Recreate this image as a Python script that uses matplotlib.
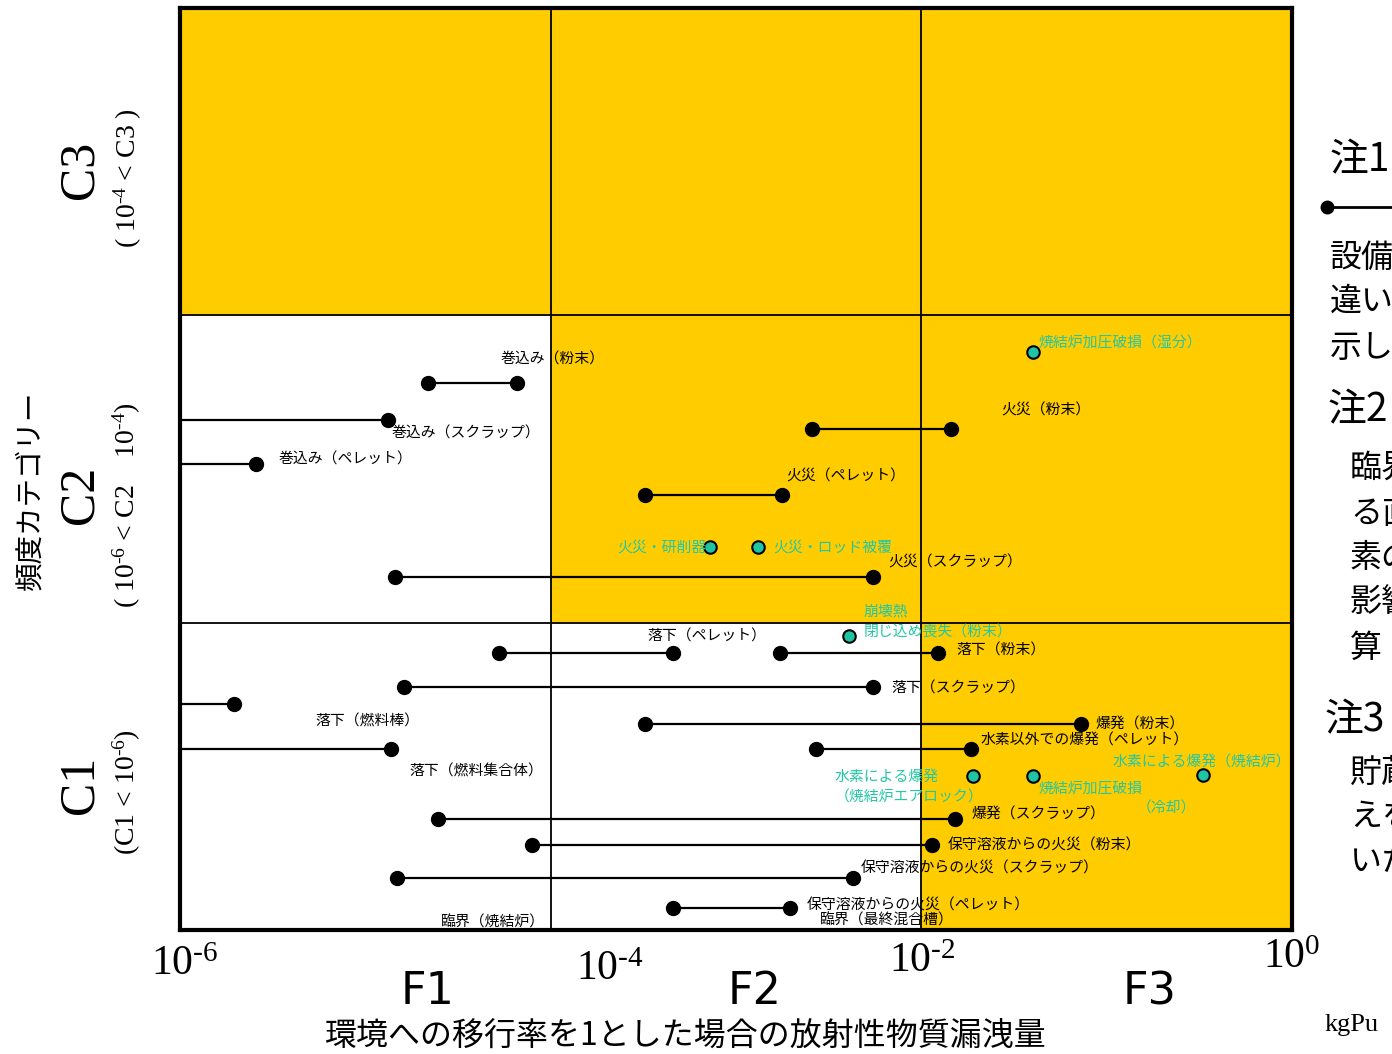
import matplotlib
matplotlib.use("Agg")
import matplotlib.pyplot as plt
from matplotlib.lines import Line2D
import numpy as np

plt.rcParams['font.family'] = ['Noto Sans CJK JP', 'DejaVu Sans']
plt.rcParams['mathtext.fontset'] = 'custom'
plt.rcParams['mathtext.rm'] = 'Liberation Serif'

YELLOW = "#FFCC00"
TEAL = "#1FC4A2"
TEAL_TXT = "#22C7A5"

# 範囲を持つ事象: (左端, 右端, 頻度) はすべて log10 の指数
# 左端 None = 横軸の左端 (10^-6) より小さい
seg_lo = [-4.66, None, None, -2.59, -3.49, -4.84, -4.28, -2.76, -4.79, None, None,
          -3.49, -2.57, -4.61, -4.10, -4.83, -3.34]
seg_hi = [-4.18, -4.88, -5.59, -1.84, -2.75, -2.26, -3.34, -1.91, -2.26, -5.71, -4.86,
          -1.14, -1.73, -1.82, -1.94, -2.37, -2.71]
seg_freq = [-4.44, -4.68, -4.97, -4.74, -5.17, -5.70, -6.20, -6.20, -6.42, -6.53, -6.82,
            -6.66, -6.82, -7.28, -7.45, -7.66, -7.86]

# 単一値の事象 (緑)
pt_x = [-1.40, -3.14, -2.88, -2.39, -1.72, -1.40, -0.48]
pt_freq = [-4.24, -5.51, -5.51, -6.09, -7.00, -7.00, -6.99]

# ラベル
lab_text = ["巻込み（粉末）", "巻込み（スクラップ）", "巻込み（ペレット）", "火災（粉末）",
            "火災（ペレット）", "火災（スクラップ）", "落下（ペレット）", "落下（粉末）",
            "落下（スクラップ）", "落下（燃料棒）", "落下（燃料集合体）", "爆発（粉末）",
            "水素以外での爆発（ペレット）", "爆発（スクラップ）", "保守溶液からの火災（粉末）",
            "保守溶液からの火災（スクラップ）", "保守溶液からの火災（ペレット）",
            "臨界（最終混合槽）", "臨界（焼結炉）"]
lab_x = [-4.27, -4.86, -5.47, -1.57, -2.73, -2.18, -3.48, -1.81, -2.16, -5.27, -4.76,
         -1.06, -1.68, -1.73, -1.86, -2.33, -2.62, -2.55, -4.59]
lab_y = [-4.29, -4.77, -4.94, -4.62, -5.05, -5.61, -6.09, -6.18, -6.43, -6.64, -6.97,
         -6.66, -6.77, -7.25, -7.45, -7.60, -7.84, -7.94, -7.95]

tlab_text = ["焼結炉加圧破損（湿分）", "火災・研削器", "火災・ロッド被覆", "崩壊熱",
             "閉じ込め喪失（粉末）", "水素による爆発", "（焼結炉エアロック）",
             "焼結炉加圧破損", "（冷却）", "水素による爆発（焼結炉）"]
tlab_x = [-1.37, -3.16, -2.80, -2.31, -2.31, -2.47, -2.47, -1.37, -0.84, -0.97]
tlab_y = [-4.18, -5.51, -5.51, -5.93, -6.06, -7.00, -7.14, -7.08, -7.21, -6.91]
tlab_ha = ["left", "right", "left", "left", "left", "left", "left", "left", "left", "left"]

fig = plt.figure(figsize=(13.92, 10.54), dpi=100)
ax = fig.add_axes([180 / 1392, 1 - 930 / 1054, 1112 / 1392, 922 / 1054])
ax.set_xscale("log")
ax.set_yscale("log")
ax.set_xlim(1e-6, 1e0)
ax.set_ylim(1e-8, 1e-2)

# 領域の塗り分け
ax.fill_between([1e-6, 1e0], 1e-4, 1e-2, color=YELLOW, lw=0, zorder=0)
ax.fill_between([1e-4, 1e0], 1e-6, 1e-4, color=YELLOW, lw=0, zorder=0)
ax.fill_between([1e-2, 1e0], 1e-8, 1e-6, color=YELLOW, lw=0, zorder=0)
for v in [1e-4, 1e-2]:
    ax.axvline(v, color="black", lw=1.3, zorder=1)
for v in [1e-6, 1e-4]:
    ax.axhline(v, color="black", lw=1.3, zorder=1)

for lo, hi, f in zip(seg_lo, seg_hi, seg_freq):
    y = 10 ** f
    if lo is None:
        ax.plot([1e-7, 10 ** hi], [y, y], color="black", lw=1.6, zorder=2)
        ax.plot([10 ** hi], [y], "o", color="black", ms=10, zorder=3)
    else:
        ax.plot([10 ** lo, 10 ** hi], [y, y], color="black", lw=1.6, zorder=2,
                marker="o", ms=10)

ax.plot(10 ** np.array(pt_x), 10 ** np.array(pt_freq), "o", ls="none",
        mfc=TEAL, mec="black", mew=1.5, ms=9, zorder=3)

for t, x, y in zip(lab_text, lab_x, lab_y):
    ax.text(10 ** x, 10 ** y, t, fontsize=10.7, ha="left", va="center", zorder=4)
for t, x, y, ha in zip(tlab_text, tlab_x, tlab_y, tlab_ha):
    ax.text(10 ** x, 10 ** y, t, fontsize=10.7, ha=ha, va="center", color=TEAL_TXT, zorder=4)

ax.set_xticks([])
ax.set_yticks([])
ax.minorticks_off()
for s in ax.spines.values():
    s.set_linewidth(3)

# 軸の文字
serif = "Liberation Serif"


def ftext(px, py, s, **kw):
    fig.text(px / 1392, 1 - py / 1054, s, **kw)


for px, py, e in [(185, 965, r"\text{-}6"), (610, 970, r"\text{-}4"),
                  (922, 962, r"\text{-}2"), (1292, 958, "0")]:
    ftext(px, py, r"$\mathregular{10^{%s}}$" % e, family=serif, fontsize=30,
          ha="center", va="center")
for px, s in [(428, "F1"), (755, "F2"), (1150, "F3")]:
    ftext(px, 992, s, family=["Liberation Sans Narrow", "DejaVu Sans"], fontsize=32,
          ha="center", va="center")
ftext(686, 1037, "環境への移行率を1とした場合の放射性物質漏洩量", fontsize=23,
      ha="center", va="center")
ftext(1325, 1025, "kgPu", family=serif, fontsize=19, ha="left", va="center")

for py, s in [(170, "C3"), (495, "C2"), (785, "C1")]:
    ftext(80, py, s, family=serif, fontsize=36, rotation=90, ha="center", va="center")
ftext(128, 178, r"( $\mathregular{10^{\text{-}4}}$ < C3 )", family=serif, fontsize=20,
      rotation=90, ha="center", va="center")
ftext(127, 505, r"( $\mathregular{10^{\text{-}6}}$ < C2    $\mathregular{10^{\text{-}4}}$)",
      family=serif, fontsize=20, rotation=90, ha="center", va="center")
ftext(127, 792, r"(C1 < $\mathregular{10^{\text{-}6}}$)", family=serif, fontsize=20,
      rotation=90, ha="center", va="center")
ftext(30, 490, "頻度カテゴリー", fontsize=20.5, rotation=90, ha="center", va="center")

# 右側の注記 (図の外へはみ出している)
notes = [(1330, 160, "注1", 28), (1330, 258, "設備の", 23), (1330, 302, "違いで", 23),
         (1330, 348, "示した", 23), (1328, 410, "注2", 28), (1350, 468, "臨界", 23),
         (1350, 514, "る直", 23), (1350, 558, "素の", 23), (1350, 602, "影響", 23),
         (1350, 648, "算", 23), (1325, 720, "注3", 28), (1350, 773, "貯蔵", 23),
         (1350, 818, "えを", 23), (1350, 862, "いた", 23)]
for px, py, s, fs in notes:
    ftext(px, py, s, fontsize=fs, ha="left", va="center")
fig.add_artist(Line2D([1327 / 1392, 1.05], [1 - 207 / 1054] * 2, transform=fig.transFigure,
                      color="black", lw=2, marker="o", markevery=[0], ms=9))

fig.savefig("out.png", dpi=100)
